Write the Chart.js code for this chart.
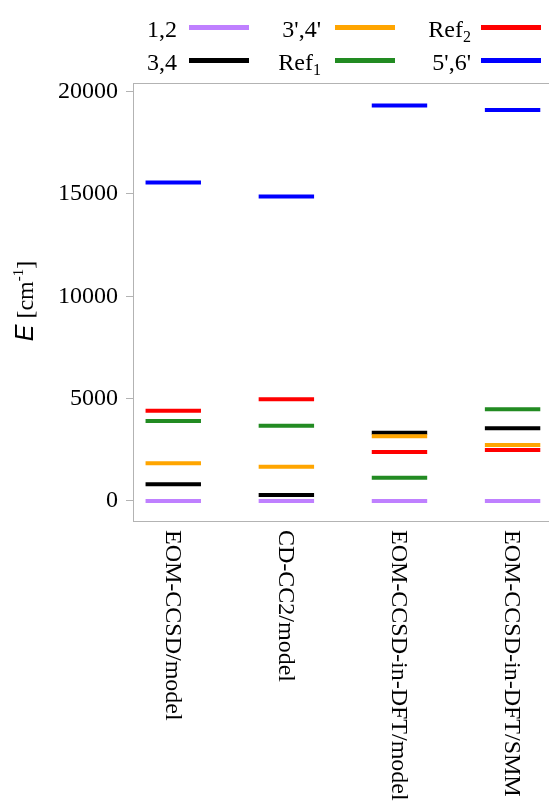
<!DOCTYPE html>
<html>
<head>
<meta charset="utf-8">
<script src="https://cdn.jsdelivr.net/npm/chart.js@4.4.1/dist/chart.umd.min.js"></script>
<style>
  html, body { margin: 0; padding: 0; background: #ffffff; }
  #wrap { position: relative; width: 549px; height: 801px; overflow: hidden; }
  #chart { position: absolute; left: 0; top: 0; }
  .lg-text { position: absolute; font: 24px "Liberation Serif", "Times New Roman", serif; color: #000; text-align: right; white-space: nowrap; line-height: 24px; }
  .lg-text sub { font-size: 16px; vertical-align: -5px; line-height: 0; }
  .lg-line { position: absolute; height: 5px; }
</style>
</head>
<body>
<div id="wrap">
  <canvas id="chart" width="549" height="801"></canvas>
</div>
<script>
// Methods compared along the x axis
const categories = ['EOM-CCSD/model', 'CD-CC2/model', 'EOM-CCSD-in-DFT/model', 'EOM-CCSD-in-DFT/SMM'];

// State labels (base text + subscript) and colours, in legend order
const seriesNames = ['1,2', '3,4', "3',4'", 'Ref', 'Ref', "5',6'"];
const seriesSubs = ['', '', '', '1', '2', ''];
const seriesColors = ['#bf80ff', '#000000', '#ffa500', '#228b22', '#ff0000', '#0000ff'];

// Energy levels in cm^-1, one value per method
const levels12 = [0, 0, 0, 0];
const levels34 = [812, 289, 3335, 3550];
const levels3p4p = [1839, 1672, 3159, 2733];
const levelsRef1 = [3907, 3677, 1134, 4479];
const levelsRef2 = [4411, 4968, 2391, 2489];
const levels5p6p = [15560, 14875, 19325, 19100];

const seriesValues = [levels12, levels34, levels3p4p, levelsRef1, levelsRef2, levels5p6p];

// Y axis tick values
const yTicks = [0, 5000, 10000, 15000, 20000];

const HALF = 0.245; // half length of a level bar, in category units
const FRAME = '#b3b3b3';
const SERIF = '"Liberation Serif", "Times New Roman", serif';

// Each level becomes a short horizontal segment centred on its category
function levelSegments(values) {
  const pts = [];
  values.forEach((v, i) => {
    pts.push({ x: i - HALF, y: v });
    pts.push({ x: i + HALF, y: v });
    pts.push({ x: i + 0.5, y: null });
  });
  return pts;
}

const datasets = seriesValues.map((vals, k) => ({
  label: seriesNames[k] + seriesSubs[k],
  data: levelSegments(vals),
  borderColor: seriesColors[k],
  backgroundColor: seriesColors[k],
  borderWidth: 4,
  borderCapStyle: 'butt',
  pointRadius: 0,
  spanGaps: false,
  tension: 0,
  order: seriesValues.length - k
}));

// Top frame line, y-axis title and rotated method labels
const decorations = {
  id: 'decorations',
  afterDraw(chart) {
    const { ctx, chartArea, scales } = chart;
    ctx.save();
    ctx.strokeStyle = FRAME;
    ctx.lineWidth = 1;
    ctx.beginPath();
    ctx.moveTo(chartArea.left, Math.round(chartArea.top) + 0.5);
    ctx.lineTo(chartArea.right, Math.round(chartArea.top) + 0.5);
    ctx.stroke();
    ctx.restore();

    // y-axis title: E [cm^-1]
    ctx.save();
    ctx.fillStyle = '#000';
    ctx.textBaseline = 'alphabetic';
    ctx.textAlign = 'left';
    const fE = 'italic 25px "Liberation Sans", Arial, sans-serif';
    const fR = '24px ' + SERIF;
    const fS = '15px ' + SERIF;
    ctx.font = fE; const wE = ctx.measureText('E').width;
    ctx.font = fR; const w1 = ctx.measureText(' [cm').width; const w3 = ctx.measureText(']').width;
    ctx.font = fS; const w2 = ctx.measureText('-1').width;
    const total = wE + w1 + w2 + w3;
    ctx.translate(33, 301);
    ctx.rotate(-Math.PI / 2);
    let x = -total / 2;
    ctx.font = fE; ctx.fillText('E', x, 0); x += wE;
    ctx.font = fR; ctx.fillText(' [cm', x, 0); x += w1;
    ctx.font = fS; ctx.fillText('-1', x, -10); x += w2;
    ctx.font = fR; ctx.fillText(']', x, 0);
    ctx.restore();

    // Method labels, reading downwards
    ctx.save();
    ctx.fillStyle = '#000';
    ctx.font = '24px ' + SERIF;
    ctx.textAlign = 'left';
    ctx.textBaseline = 'middle';
    categories.forEach((name, i) => {
      const px = scales.x.getPixelForValue(i);
      ctx.save();
      ctx.translate(px - 1, chartArea.bottom + 9);
      ctx.rotate(Math.PI / 2);
      ctx.fillText(name, 0, 0);
      ctx.restore();
    });
    ctx.restore();
  }
};

const chart = new Chart(document.getElementById('chart'), {
  type: 'line',
  data: { datasets },
  options: {
    responsive: false,
    animation: false,
    events: [],
    layout: { padding: { top: 83, right: 0, bottom: 0, left: 0 } },
    plugins: { legend: { display: false }, tooltip: { enabled: false } },
    scales: {
      x: {
        type: 'linear',
        min: -0.356,
        max: 3.322,
        ticks: { display: false },
        grid: { display: false },
        border: { display: true, color: FRAME, width: 1 },
        afterFit(scale) { scale.height = 280; }
      },
      y: {
        type: 'linear',
        min: -980,
        max: 20420,
        afterBuildTicks(scale) { scale.ticks = yTicks.map(v => ({ value: v })); },
        ticks: {
          color: '#000',
          padding: 8,
          font: { family: SERIF, size: 24 },
          callback: v => String(v)
        },
        grid: { drawOnChartArea: false, drawTicks: true, tickLength: 7, color: FRAME },
        border: { display: true, color: FRAME, width: 1 },
        afterFit(scale) { scale.width = 133; }
      }
    }
  },
  plugins: [decorations]
});

// Legend: three columns, filled column by column
(function buildLegend() {
  const wrap = document.getElementById('wrap');
  const textRight = [177, 321, 471];
  const lineLeft = [189, 335, 481];
  const lineLen = 60;
  const rowY = [27, 60];
  seriesNames.forEach((name, k) => {
    const col = Math.floor(k / 2);
    const row = k % 2;
    const t = document.createElement('div');
    t.className = 'lg-text';
    t.style.right = (549 - textRight[col]) + 'px';
    t.style.top = (rowY[row] - 12 + 2) + 'px';
    t.textContent = name;
    if (seriesSubs[k]) {
      const s = document.createElement('sub');
      s.textContent = seriesSubs[k];
      t.appendChild(s);
    }
    wrap.appendChild(t);
    const l = document.createElement('div');
    l.className = 'lg-line';
    l.style.left = lineLeft[col] + 'px';
    l.style.width = lineLen + 'px';
    l.style.top = (rowY[row] - 2.5) + 'px';
    l.style.background = seriesColors[k];
    wrap.appendChild(l);
  });
})();
</script>
</body>
</html>
